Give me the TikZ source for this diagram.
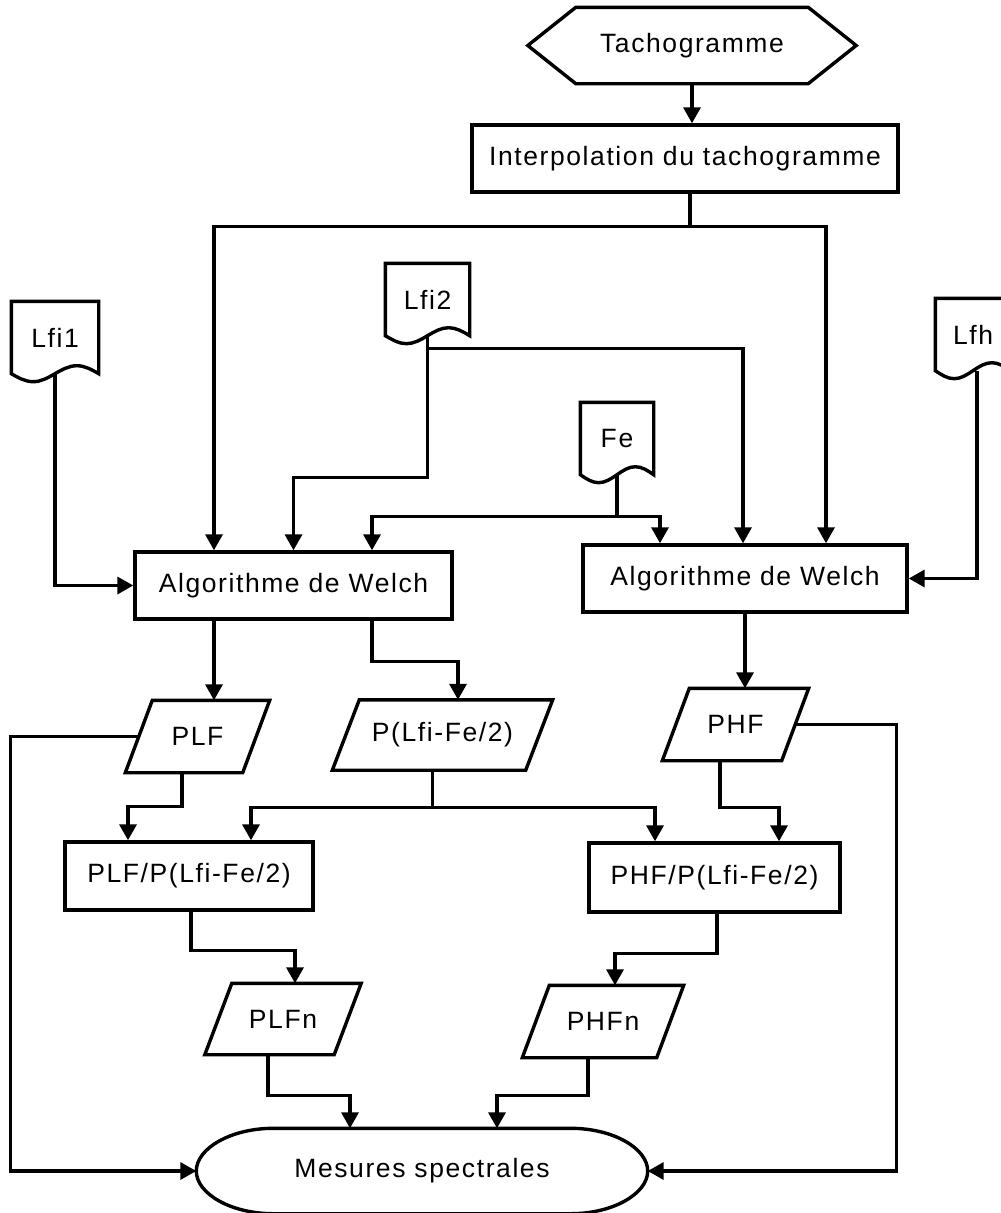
\documentclass[tikz,border=0pt]{standalone}
\usepackage{fontspec}
\setmainfont{Liberation Sans}[LetterSpace=6]
\usetikzlibrary{arrows.meta,calc}

\newcommand\lab{\fontsize{26.5}{30}\selectfont}
% outline of a document symbol (wavy bottom)
\newcommand\docline[1]{%
  \draw (#1.north) -- (#1.north west) -- (#1.south west)
    sin ($(#1.south west)!.25!(#1.south east)+(0,-8)$)
    cos ($(#1.south west)!.5!(#1.south east)$)
    sin ($(#1.south west)!.75!(#1.south east)+(0,8)$)
    cos (#1.south east) -- (#1.north east) -- cycle;}
% outline of a data symbol (parallelogram)
\newcommand\ioline[1]{%
  \draw ([xshift=13.5pt]#1.north west) -- ([xshift=13.5pt]#1.north east)
    -- ([xshift=-13.5pt]#1.south east) -- ([xshift=-13.5pt]#1.south west) -- cycle;}

\begin{document}
\begin{tikzpicture}[x=1pt,y=1pt,line width=3.4pt,
    arr/.style={-{Triangle[length=16pt,width=17pt]}},
    box/.style={draw,rectangle,minimum height=67pt},
    doc/.style={rectangle,minimum height=69pt},
    io/.style={rectangle,minimum height=69pt}]
    \tikzset{every node/.style={font=\lab,inner sep=0pt}}
    \useasboundingbox (0,0) rectangle (1001,-1213);

    \node [rectangle,minimum width=325pt,minimum height=73pt] (tacho) at (692,-45.5) {Tachogramme};
    \draw ([xshift=48pt]tacho.north west) -- ([xshift=-48pt]tacho.north east) -- (tacho.east)
        -- ([xshift=-48pt]tacho.south east) -- ([xshift=48pt]tacho.south west) -- (tacho.west) -- cycle;
    \node [box,minimum width=426pt] (interp) at (685,-158.5) {Interpolation du tachogramme};

    \node [doc,minimum width=84pt] (lfi1) at (55,-337.5) {Lfi1};
    \node [doc,minimum width=81pt] (lfi2) at (427.5,-299.5) {Lfi2};
    \node [doc,minimum width=70pt] (fe) at (617,-438.5) {Fe};
    \node [doc,minimum width=72pt] (lfh) at (973,-334.5) {Lfh};
    \docline{lfi1}
    \docline{lfi2}
    \docline{fe}
    \docline{lfh}

    \node [box,minimum width=317pt] (w1) at (293.5,-585.5) {Algorithme de Welch};
    \node [box,minimum width=324pt] (w2) at (745,-578.5) {Algorithme de Welch};

    \node [io,minimum width=114pt] (plf) at (197.5,-736.5) {PLF};
    \node [io,minimum width=190pt,minimum height=67pt] (plfe) at (442.5,-735) {P(Lfi-Fe/2)};
    \node [io,minimum width=116pt] (phf) at (735.5,-724.5) {PHF};
    \ioline{plf}
    \ioline{plfe}
    \ioline{phf}

    \node [box,minimum width=248pt,minimum height=68pt] (lnorm) at (189,-876) {PLF/P(Lfi-Fe/2)};
    \node [box,minimum width=251pt,minimum height=69pt] (hnorm) at (714.5,-877.5) {PHF/P(Lfi-Fe/2)};

    \node [io,minimum width=126pt,minimum height=68pt] (plfn) at (283,-1019) {PLFn};
    \node [io,minimum width=131pt] (phfn) at (603,-1021.5) {PHFn};
    \ioline{plfn}
    \ioline{phfn}

    \node [rectangle,minimum width=448pt,minimum height=82pt] (mes) at (422,-1171) {Mesures spectrales};
    \draw ([xshift=77pt]mes.north west) -- ([xshift=-77pt]mes.north east)
        .. controls +(42.5,0) and +(0,22.6) .. (mes.east)
        .. controls +(0,-22.6) and +(42.5,0) .. ([xshift=-77pt]mes.south east)
        -- ([xshift=77pt]mes.south west)
        .. controls +(-42.5,0) and +(0,-22.6) .. (mes.west)
        .. controls +(0,22.6) and +(-42.5,0) .. cycle;

    % top part
    \draw [arr] (tacho.south) -- (tacho.south |- interp.north);
    \draw [arr] ([xshift=5pt]interp.south) -- ++(0,-33) -| ([xshift=-79.5pt]w1.north);
    \draw [arr] ([xshift=5pt]interp.south) -- ++(0,-33) -| ([xshift=81pt]w2.north);
    \draw [arr] (lfi1.south) |- (w1.west);
    \draw [arr] (lfi2.south) -- ++(0,-142) -| (w1.north);
    \draw [arr] (lfi2.south) -- ++(0,-13) -| ([xshift=-2pt]w2.north);
    \draw [arr] (fe.south) -- ++(0,-42) -| ([xshift=78.5pt]w1.north);
    \draw [arr] (fe.south) -- ++(0,-42) -| ([xshift=-85pt]w2.north);
    \draw [arr] ([xshift=4pt]lfh.south) |- (w2.east);

    % spectra
    \draw [arr] ([xshift=-79.5pt]w1.south) -- ([xshift=-79.5pt]w1.south |- plf.north);
    \draw [arr] ([xshift=78.5pt]w1.south) -- ++(0,-41) -| ([xshift=15.5pt]plfe.north);
    \draw [arr] (w2.south) -- (w2.south |- phf.north);
    \draw [arr] ([xshift=-15.5pt]plf.south) -- ++(0,-34) -| ([xshift=-61pt]lnorm.north);
    \draw [arr] ([xshift=-10pt]plfe.south) -- ++(0,-37) -| ([xshift=62pt]lnorm.north);
    \draw [arr] ([xshift=-10pt]plfe.south) -- ++(0,-37) -| ([xshift=-59.5pt]hnorm.north);
    \draw [arr] ([xshift=-15.5pt]phf.south) -- ++(0,-47) -| ([xshift=64.5pt]hnorm.north);

    % normalised spectra
    \draw [arr] ([xshift=2pt]lnorm.south) -- ++(0,-39) -| ([xshift=12pt]plfn.north);
    \draw [arr] ([xshift=2.5pt]hnorm.south) -- ++(0,-40) -| ([xshift=12pt]phfn.north);
    \draw [arr] ([xshift=-15pt]plfn.south) -- ++(0,-41) -| ([xshift=-72pt]mes.north);
    \draw [arr] ([xshift=-15pt]phfn.south) -- ++(0,-38) -| ([xshift=75pt]mes.north);
    \draw [arr] (plf.west) -- ++(-128.5,0) |- (mes.west);
    \draw [arr] (phf.east) -- ++(101.5,0) |- (mes.east);

\end{tikzpicture}
\end{document}
